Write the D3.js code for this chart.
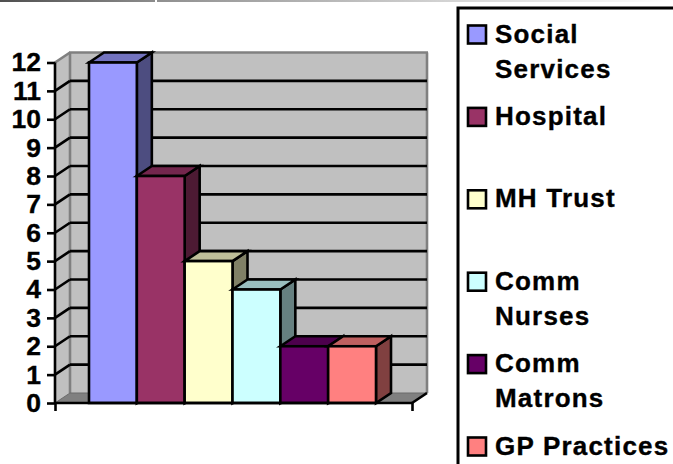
<!DOCTYPE html>
<html><head><meta charset="utf-8">
<script src="https://cdnjs.cloudflare.com/ajax/libs/d3/7.8.5/d3.min.js"></script>
<style>html,body{margin:0;padding:0;background:#fff;overflow:hidden}svg{display:block}text{font-family:"Liberation Sans",Arial,sans-serif;font-weight:bold;fill:#000;stroke:#000;stroke-width:.35px}</style>
</head><body><script>
const seriesNames = ["Social Services","Hospital","MH Trust","Comm Nurses","Comm Matrons","GP Practices"];
const seriesValues = [12,8,5,4,2,2];
const seriesColors = ["#9999ff","#993366","#ffffcc","#ccffff","#660066","#ff8080"];
const legendLines = [["Social","Services"],["Hospital"],["MH Trust"],["Comm","Nurses"],["Comm","Matrons"],["GP Practices"]];
const yTicks = [0,1,2,3,4,5,6,7,8,9,10,11,12];

const W=673,H=464;
const svg=d3.select("body").append("svg").attr("width",W).attr("height",H);
const defs=svg.append("defs");
const g1=defs.append("linearGradient").attr("id","strip1");
g1.append("stop").attr("offset",0).attr("stop-color","#4f4f4f");
g1.append("stop").attr("offset",1).attr("stop-color","#8c8c8c");
const g2=defs.append("linearGradient").attr("id","strip2");
g2.append("stop").attr("offset",0).attr("stop-color","#8f8f8f");
g2.append("stop").attr("offset",0.6).attr("stop-color","#d8d8d8");
g2.append("stop").attr("offset",1).attr("stop-color","#ffffff");
svg.append("rect").attr("x",0).attr("y",0).attr("width",155).attr("height",2).attr("fill","url(#strip1)");
svg.append("rect").attr("x",157).attr("y",0).attr("width",W-157).attr("height",2).attr("fill","url(#strip2)");

const dx=15,dy=-10,sw=2.6;
const x0=55,x1=412;
const y=d3.scaleLinear().domain([0,12]).range([403,62.5]);
const x=d3.scaleBand().domain(seriesNames).range([89,376]);
const poly=p=>p.map(q=>q.join(",")).join(" ");

// walls
svg.append("polygon").attr("points",poly([[x0,y(12)],[x0+dx,y(12)+dy],[x0+dx,y(0)+dy],[x0,y(0)]])).attr("fill","#c0c0c0");
svg.append("polygon").attr("points",poly([[x0+dx,y(12)+dy],[x1+dx,y(12)+dy],[x1+dx,y(0)+dy],[x0+dx,y(0)+dy]])).attr("fill","#c0c0c0");
svg.append("polygon").attr("points",poly([[x0,y(0)],[x0+dx,y(0)+dy],[x1+dx,y(0)+dy],[x1,y(0)]])).attr("fill","#808080");

// wall borders
const grey="#808080";
const seg=(a,b,c,d,col,w)=>svg.append("line").attr("x1",a).attr("y1",b).attr("x2",c).attr("y2",d).attr("stroke",col).attr("stroke-width",w);
seg(x0+dx-1,y(12)+dy,x1+dx+1,y(12)+dy,grey,sw);
seg(x0+dx,y(12)+dy,x0+dx,y(0)+dy,grey,sw);
seg(x1+dx,y(12)+dy,x1+dx,y(0)+dy,grey,sw);
seg(x0,y(12),x0+dx,y(12)+dy,grey,sw);

// gridlines
yTicks.filter(t=>t>0&&t<12).forEach(t=>{
  seg(x0+dx,y(t)+dy,x1+dx,y(t)+dy,"#000",sw);
  seg(x0,y(t),x0+dx,y(t)+dy,"#000",sw);
});
seg(x0,y(0),x0+dx,y(0)+dy,"#6a6a6a",1);
seg(x0+dx,y(0)+dy,x1+dx,y(0)+dy,"#6a6a6a",1);

// bars
const shade=(c,k)=>{const r=d3.rgb(c);return d3.rgb(r.r*k,r.g*k,r.b*k).formatHex();};
seriesNames.forEach((n,i)=>{
  const v=seriesValues[i],c=seriesColors[i];
  const l=x(n),r=l+x.bandwidth(),t=y(v),b=y(0);
  const g=svg.append("g").attr("stroke","#000").attr("stroke-width",sw).attr("stroke-linejoin","miter");
  g.append("polygon").attr("points",poly([[r,t],[r+dx,t+dy],[r+dx,b+dy],[r,b]])).attr("fill",shade(c,.5));
  g.append("polygon").attr("points",poly([[l,t],[l+dx,t+dy],[r+dx,t+dy],[r,t]])).attr("fill",shade(c,.75));
  g.append("rect").attr("x",l).attr("y",t).attr("width",r-l).attr("height",b-t).attr("fill",c);
});

// axes
const axisY=d3.axisLeft(y).tickValues(yTicks).tickFormat(d3.format("d")).tickSize(8).tickPadding(6);
const ay=svg.append("g").attr("transform",`translate(${x0},0)`).call(axisY);
ay.selectAll("line,path").attr("stroke","#000").attr("stroke-width",sw);
ay.select("path").attr("d",`M0,${y(12)}V${y(0)}`);
ay.selectAll("text").attr("font-size",26.5).style("font-family",'"Liberation Sans",Arial,sans-serif').style("font-weight","bold").style("stroke","#000").style("stroke-width",".35px");
const ax=d3.axisBottom(d3.scaleLinear().domain([0,1]).range([x0,x1])).tickValues([0,1]).tickSize(8).tickFormat("");
const axg=svg.append("g").attr("transform",`translate(0,${y(0)})`).call(ax);
axg.selectAll("line").attr("stroke","#000").attr("stroke-width",sw);
axg.select("path").attr("stroke","#000").attr("stroke-width",sw).attr("d",`M${x0},0H${x1}`);
seg(x1,y(0),x1+dx,y(0)+dy,"#000",sw);

// legend
svg.append("rect").attr("x",458).attr("y",8).attr("width",W).attr("height",H).attr("fill","#fff").attr("stroke","#000").attr("stroke-width",3);
const rowStep=82.4;
seriesNames.forEach((n,i)=>{
  const top=25.5+i*rowStep;
  svg.append("rect").attr("x",468).attr("y",top).attr("width",18).attr("height",18).attr("fill",seriesColors[i]).attr("stroke","#000").attr("stroke-width",sw);
  legendLines[i].forEach((ln,j)=>{
    svg.append("text").attr("x",495).attr("y",top+17+j*35).attr("font-size",26).attr("letter-spacing",1.2).text(ln);
  });
});
</script></body></html>
